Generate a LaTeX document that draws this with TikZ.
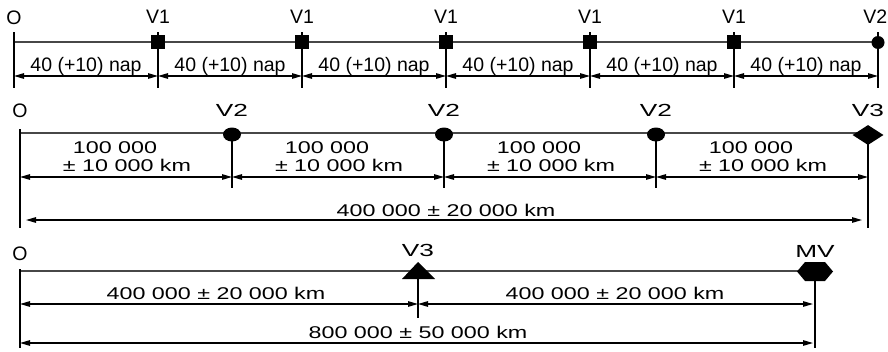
\documentclass[tikz,border=0pt]{standalone}
\usepackage{fontspec}
\setmainfont{Liberation Sans}
\newfontfamily\widefont[FakeStretch=1.37]{Liberation Sans}
\newfontfamily\widerfont[FakeStretch=1.5]{Liberation Sans}
\usetikzlibrary{arrows.meta,shapes.geometric,calc}
\begin{document}
\begin{tikzpicture}[x=1pt,y=-1pt,
  tick/.style={line width=1.6pt, draw=black},
  baseln/.style={line width=1.2pt, draw=black!72},
  dimline/.style={line width=1.2pt, <->, >={Triangle[length=10pt,width=5.5pt]}},
  labA/.style={font=\fontsize{19.5}{21}\selectfont, inner sep=0, anchor=base},
  labO/.style={font=\fontsize{19.5}{21}\selectfont, inner sep=0, anchor=base},
  labB/.style={font=\widefont\fontsize{17}{19}\selectfont, inner sep=0, anchor=base},
  labC/.style={font=\widerfont\fontsize{17.5}{19}\selectfont, inner sep=0, anchor=base},
  blk/.style={fill=black, draw=none, inner sep=0}]
\useasboundingbox (0,0) rectangle (888,351);

% ---------- row 1 ----------
\foreach \n/\x in {0/14,1/158,2/302,3/446,4/590,5/734,6/878}{
  \coordinate (p\n) at (\x,42);
  \coordinate (t\n) at (\x,32);
  \coordinate (b\n) at (\x,88);
  \coordinate (d\n) at (\x,76);
}
\draw[baseln] (p0) -- (p6);
\foreach \n in {0,...,6} \draw[tick] (t\n) -- (b\n);
\foreach \n in {1,...,5} \node[blk, minimum size=13.5pt] (sq\n) at (p\n) {};
\node[blk, circle, minimum size=13pt] (c6) at (878,42.5) {};
\node[labO] (l10) at (14,24) {O};
\foreach \n/\x in {1/158,2/302,3/446,4/590,5/734}
  \node[labA] (l1\n) at (\x,23.5) {V1};
\node[labA, anchor=base east] (l16) at (887.5,23.5) {V2};
\foreach \n/\m in {0/1,1/2,2/3,3/4,4/5,5/6}{
  \draw[dimline] (d\n) -- (d\m);
  \node[labA] (dt\n) at ($(d\n)!.5!(d\m)+(0,-4.5)$) {40 (+10) nap};
}

% ---------- row 2 ----------
\foreach \n/\x in {0/20,1/232,2/444,3/656,4/868}{
  \coordinate (q\n) at (\x,133);
  \coordinate (qb\n) at (\x,188);
  \coordinate (qd\n) at (\x,177);
  \coordinate (qe\n) at (\x,220);
}
\draw[baseln] (q0) -- (q4);
\coordinate (q0top) at (20,129);
\coordinate (q0bot) at (20,228);
\coordinate (q4bot) at (868,228);
\draw[tick] (q0top) -- (q0bot);
\foreach \n/\x in {1/232,2/444,3/656}{
  \draw[tick] (\x,134.5) -- (qb\n);
  \node[blk, ellipse, minimum width=18pt, minimum height=14pt] (e\n) at (\x,134.5) {};
  \node[labC] (l2\n) at (\x,116.5) {V2};
}
\draw[tick] (868,135) -- (q4bot);
\node[blk, diamond, minimum width=31pt, minimum height=20pt] (dm) at (868,135) {};
\node[labO] (l20) at (20,117) {O};
\node[labC] (l24) at (868,116.5) {V3};
\foreach \n/\m in {0/1,1/2,2/3,3/4}{
  \draw[dimline] (qd\n) -- (qd\m);
  \node[labB] (ka\n) at ($(qd\n)!.5!(qd\m)+(-11,-24)$) {100 000};
  \node[labB] (kb\n) at ($(qd\n)!.5!(qd\m)+(1,-5.5)$) {± 10 000 km};
}
\draw[dimline, shorten <=6pt, shorten >=6pt] (qe0) -- (qe4);
\node[labB] (kt) at (446,216) {400 000 ± 20 000 km};

% ---------- row 3 ----------
\coordinate (r0) at (20,271);
\coordinate (r1) at (418,271);
\coordinate (r2) at (815,271);
\draw[baseln] (r0) -- (r2);
\coordinate (r0top) at (20,269);
\coordinate (r0bot) at (20,348);
\draw[tick] (r0top) -- (r0bot);
\coordinate (r1b) at (418,318);
\coordinate (r2b) at (815,348);
\draw[tick] (418,279) -- (r1b);
\draw[tick] (815,281) -- (r2b);
\fill (402,279) -- (418,262) -- (435,279) -- cycle;
\fill (797,271.5) -- (805,262) -- (825,262) -- (833,271.5) -- (825,281) -- (805,281) -- cycle;
\node[labO] (l30) at (20,260.5) {O};
\node[labC] (l31) at (418,256.5) {V3};
\node[labC] (l32) at (815,257) {MV};
\coordinate (s0) at (20,304);
\coordinate (s1) at (418,304);
\coordinate (s2) at (815,304);
\draw[dimline] (s0) -- (s1);
\draw[dimline, shorten >=2pt] (s1) -- (s2);
\node[labB] (m1) at (216,299) {400 000 ± 20 000 km};
\node[labB] (m2) at (615,299) {400 000 ± 20 000 km};
\coordinate (u0) at (20,343);
\coordinate (u2) at (815,343);
\draw[dimline, shorten >=2pt] (u0) -- (u2);
\node[labB] (m3) at (418,338.5) {800 000 ± 50 000 km};
\end{tikzpicture}
\end{document}
